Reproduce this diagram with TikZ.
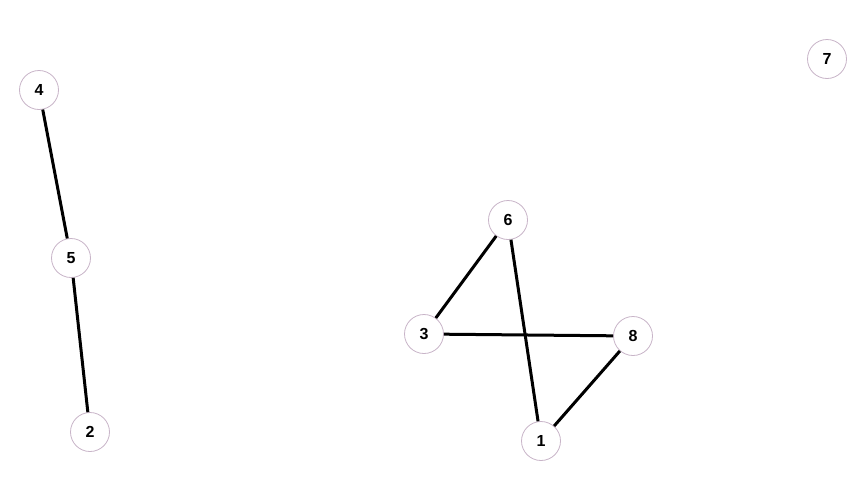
\documentclass[tikz,border=0pt]{standalone}
\usepackage{fontspec}
\setmainfont{Liberation Sans}
\definecolor{ring}{RGB}{200,180,200}
\begin{document}
\begin{tikzpicture}[x=1pt,y=-1pt,
  vtx/.style={circle,draw=ring,line width=0.8pt,fill=white,minimum size=39pt,inner sep=0pt,font=\bfseries\fontsize{16}{18}\selectfont},
  edge/.style={line width=3pt,black}]
\useasboundingbox (0,0) rectangle (867,501);
\node[vtx] (n4) at (39,90) {4};
\node[vtx] (n5) at (71,258) {5};
\node[vtx] (n2) at (90,432) {2};
\node[vtx] (n6) at (508,220) {6};
\node[vtx] (n3) at (424,334) {3};
\node[vtx] (n8) at (633,336) {8};
\node[vtx] (n1) at (541,441) {1};
\node[vtx] (n7) at (827,59) {7};
\draw[edge] (n4) -- (n5);
\draw[edge] (n5) -- (n2);
\draw[edge] (n6) -- (n3);
\draw[edge] (n6) -- (n1);
\draw[edge] (n3) -- (n8);
\draw[edge] (n8) -- (n1);
\end{tikzpicture}
\end{document}
